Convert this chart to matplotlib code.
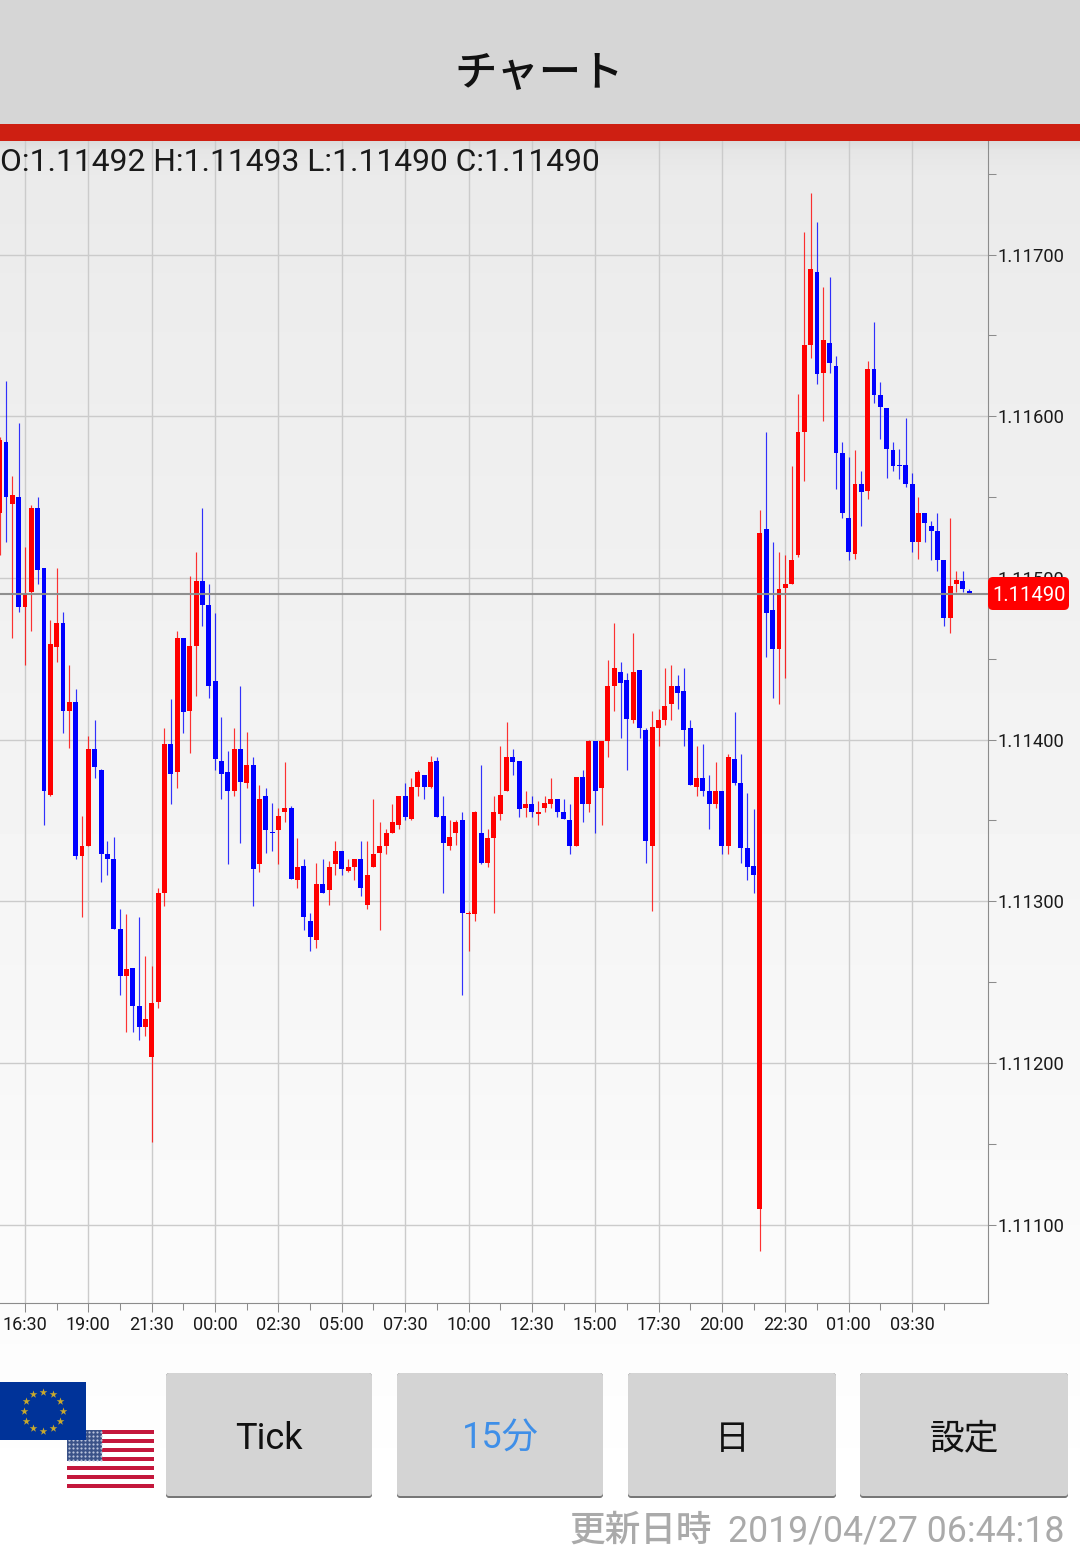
"""EUR/USD 15 minute candle chart screen, saved as out.png."""

from __future__ import annotations

import matplotlib

matplotlib.use("Agg")

import matplotlib.pyplot as plt
import numpy as np
from matplotlib.patches import FancyBboxPatch, Rectangle
from matplotlib.ticker import FixedLocator

W, H = 1080, 1556

# candle values, in points above 1.11000 (1 point = 0.00001)
PRICE_BASE = 1.11
POINT = 0.00001
OPENS = [
    540, 584, 546, 550, 482, 491, 543, 506, 366, 457,
    472, 418, 423, 328, 334, 394, 381, 329, 326, 283,
    254, 259, 235, 222, 204, 238, 305, 397, 380, 463,
    418, 458, 498, 483, 436, 387, 380, 368, 394, 373,
    384, 323, 365, 343, 344, 355, 358, 313, 322, 288,
    276, 311, 307, 323, 331, 319, 321, 326, 298, 321,
    330, 334, 342, 347, 365, 351, 371, 378, 371, 387,
    353, 334, 342, 350, 292, 292, 342, 324, 339, 354,
    368, 389, 387, 358, 360, 354, 358, 360, 363, 355,
    350, 334, 377, 360, 399, 370, 399, 433, 442, 437,
    412, 443, 406, 334, 407, 412, 422, 433, 430, 407,
    371, 376, 368, 360, 368, 334, 388, 373, 333, 322,
    110, 530, 480, 456, 494, 496, 514, 590, 644, 689,
    627, 645, 631, 577, 537, 515, 558, 554, 629, 613,
    605, 579, 570, 570, 558, 522, 540, 532, 529, 511,
    475, 496, 498, 492,
]
CLOSES = [
    585, 550, 551, 482, 490, 543, 505, 368, 459, 472,
    418, 423, 328, 334, 394, 383, 329, 326, 283, 254,
    258, 235, 222, 227, 237, 305, 397, 379, 463, 417,
    458, 498, 483, 433, 388, 379, 368, 394, 374, 384,
    320, 363, 344, 342, 353, 358, 314, 321, 290, 278,
    311, 305, 321, 331, 320, 321, 326, 308, 316, 329,
    334, 342, 349, 365, 352, 371, 380, 371, 386, 352,
    336, 340, 349, 293, 293, 355, 324, 339, 355, 366,
    389, 386, 357, 360, 355, 355, 361, 363, 355, 351,
    334, 377, 360, 399, 368, 399, 433, 444, 435, 413,
    442, 407, 337, 408, 412, 421, 433, 429, 406, 372,
    376, 368, 360, 368, 334, 389, 373, 333, 321, 316,
    528, 478, 456, 493, 496, 511, 590, 644, 691, 626,
    647, 633, 577, 540, 516, 558, 553, 629, 613, 606,
    580, 569, 569, 558, 522, 540, 534, 529, 511, 475,
    495, 499, 493, 490,
]
HIGHS = [
    587, 622, 563, 596, 519, 545, 550, 506, 474, 506,
    479, 446, 431, 353, 402, 412, 382, 337, 340, 295,
    292, 259, 290, 266, 260, 308, 407, 425, 467, 463,
    501, 516, 543, 496, 478, 414, 393, 407, 433, 405,
    389, 372, 370, 361, 358, 386, 359, 339, 326, 293,
    324, 326, 325, 337, 331, 326, 326, 337, 337, 363,
    349, 345, 360, 365, 373, 376, 381, 378, 390, 389,
    365, 350, 350, 355, 294, 356, 384, 345, 365, 396,
    411, 394, 387, 368, 365, 362, 365, 376, 363, 363,
    360, 377, 381, 400, 399, 399, 449, 472, 448, 441,
    466, 443, 407, 418, 419, 444, 446, 440, 444, 412,
    396, 397, 378, 386, 368, 391, 417, 391, 367, 357,
    542, 590, 522, 516, 514, 569, 614, 714, 738, 720,
    680, 686, 637, 584, 575, 579, 566, 634, 658, 621,
    605, 584, 580, 599, 565, 550, 540, 535, 540, 511,
    537, 504, 504, 493,
]
LOWS = [
    514, 522, 463, 479, 446, 467, 496, 347, 365, 448,
    404, 395, 326, 290, 334, 376, 312, 316, 283, 242,
    219, 219, 214, 217, 151, 234, 297, 360, 370, 404,
    392, 427, 470, 426, 381, 363, 323, 365, 336, 370,
    297, 318, 330, 331, 323, 349, 314, 308, 282, 269,
    271, 305, 298, 316, 316, 318, 313, 303, 295, 321,
    282, 329, 342, 345, 350, 350, 365, 363, 370, 352,
    305, 332, 335, 242, 269, 288, 323, 321, 293, 350,
    368, 378, 352, 352, 352, 347, 355, 358, 352, 351,
    329, 334, 349, 355, 342, 347, 389, 418, 401, 381,
    410, 401, 324, 294, 396, 409, 412, 419, 396, 372,
    365, 365, 345, 358, 329, 329, 372, 324, 313, 305,
    84, 451, 426, 422, 438, 496, 513, 560, 636, 620,
    597, 627, 555, 537, 511, 512, 532, 549, 608, 586,
    562, 566, 561, 556, 516, 512, 522, 511, 504, 470,
    466, 491, 491, 490,
]

TIME_LABELS = [
    "16:30", "19:00", "21:30", "00:00", "02:30", "05:00", "07:30", "10:00",
    "12:30", "15:00", "17:30", "20:00", "22:30", "01:00", "03:30",
]
PRICE_TICKS = [1.111, 1.112, 1.113, 1.114, 1.115, 1.116, 1.117]
PRICE_MINOR_TICKS = [1.1115, 1.1125, 1.1135, 1.1145, 1.1155, 1.1165, 1.1175]
LAST_PRICE = 1.1149
OHLC_TEXT = "O:1.11492 H:1.11493 L:1.11490 C:1.11490"
TITLE = "チャート"
BUTTON_LABELS = ["Tick", "15分", "日", "設定"]
UPDATED_LABEL = "更新日時"
UPDATED_TIME = "2019/04/27 06:44:18"

UP_COLOR = "#ff0000"
DOWN_COLOR = "#0000ff"
GRID_COLOR = "#cbcbcb"
AXIS_COLOR = "#8c8c8c"
FONT = ["Roboto", "Noto Sans CJK JP", "DejaVu Sans"]


def draw_background(fig):
    ax = fig.add_axes([0, 0, 1, 1], zorder=0)
    ax.set_axis_off()
    rows = np.arange(H)
    shade = np.interp(
        rows,
        [141, 150, 175, 300, 800, 1300, 1500],
        [0.86, 0.9, 0.918, 0.928, 0.955, 0.985, 1.0],
    )
    ax.imshow(shade[:, None], cmap="gray", vmin=0, vmax=1, aspect="auto", extent=(0, W, H, 0))
    ax.set_xlim(0, W)
    ax.set_ylim(H, 0)


def draw_chart(fig):
    left, right, top, bottom = 0, 988, 141, 1303
    ax = fig.add_axes(
        [left / W, 1 - bottom / H, (right - left) / W, (bottom - top) / H],
        zorder=1,
    )
    ax.patch.set_alpha(0)

    opens = PRICE_BASE + np.array(OPENS) * POINT
    closes = PRICE_BASE + np.array(CLOSES) * POINT
    highs = PRICE_BASE + np.array(HIGHS) * POINT
    lows = PRICE_BASE + np.array(LOWS) * POINT
    idx = np.arange(len(opens))
    colors = [UP_COLOR if c > o else DOWN_COLOR for o, c in zip(opens, closes)]

    ax.vlines(idx, lows, highs, colors=colors, linewidth=0.85, alpha=0.8, zorder=3)
    ax.bar(idx, np.abs(closes - opens), bottom=np.minimum(opens, closes), width=0.78, color=colors, zorder=4)
    ax.axhline(LAST_PRICE, color="#8a8a8a", linewidth=1.5, alpha=0.95, zorder=5)

    ax.set_xlim(0.054, 155.99)
    ax.set_ylim(1.110516, 1.117702)

    ax.set_xticks(idx[4::10][: len(TIME_LABELS)])
    ax.set_xticklabels(TIME_LABELS, family=FONT, fontsize=13, color="#1a1a1a")
    ax.xaxis.set_minor_locator(FixedLocator(idx[9::10]))
    ax.yaxis.tick_right()
    ax.set_yticks(PRICE_TICKS)
    ax.set_yticklabels([f"{p:.5f}" for p in PRICE_TICKS], family=FONT, fontsize=13.2, color="#1a1a1a")
    ax.yaxis.set_minor_locator(FixedLocator(PRICE_MINOR_TICKS))

    ax.tick_params(axis="x", which="major", length=6.6, width=0.75, color=AXIS_COLOR, pad=2.6)
    ax.tick_params(axis="x", which="minor", length=5, width=0.75, color=AXIS_COLOR)
    ax.tick_params(axis="y", which="both", length=5.8, width=0.75, color=AXIS_COLOR, pad=0.8)

    ax.grid(True, which="major", color=GRID_COLOR, linewidth=1.0, zorder=1)
    ax.set_axisbelow(True)
    for side in ("left", "top"):
        ax.spines[side].set_visible(False)
    for side in ("right", "bottom"):
        ax.spines[side].set_color(AXIS_COLOR)
        ax.spines[side].set_linewidth(0.8)


def draw_us_flag(ax):
    x0, y0, w, h = 67, 1430, 87, 58
    ax.add_patch(Rectangle((x0, y0), w, h, fc="white", ec="none"))
    stripe = h / 13
    for i in range(0, 13, 2):
        ax.add_patch(Rectangle((x0, y0 + i * stripe), w, stripe, fc="#c4173c", ec="none"))
    ax.add_patch(Rectangle((x0, y0), 35, 7 * stripe, fc="#3a5288", ec="none"))
    xs, ys = np.meshgrid(np.arange(x0 + 2, x0 + 35, 4), np.arange(y0 + 2, y0 + 31, 4))
    ax.scatter(xs.ravel(), ys.ravel(), s=2.5, c="#b9c4dc", linewidths=0)


def draw_eu_flag(ax):
    ax.add_patch(Rectangle((0, 1382), 86, 58, fc="#003399", ec="none"))
    angles = np.deg2rad(np.arange(0, 360, 30))
    ax.scatter(
        43 + 19.5 * np.cos(angles),
        1411 + 19.5 * np.sin(angles),
        s=34,
        marker="*",
        c="#c9a92c",
        linewidths=0,
    )


def draw_screen(fig):
    ax = fig.add_axes([0, 0, 1, 1], zorder=2)
    ax.set_axis_off()
    ax.patch.set_alpha(0)
    ax.set_xlim(0, W)
    ax.set_ylim(H, 0)

    ax.add_patch(Rectangle((0, 0), W, 124, fc="#d6d6d6", ec="none"))
    ax.add_patch(Rectangle((0, 124), W, 17, fc="#ce1f12", ec="none"))
    ax.text(
        539, 73, TITLE, ha="center", va="center", family=FONT[1:],
        fontsize=30.5, fontweight="medium", color="#111111",
    )
    ax.text(0, 162, OHLC_TEXT, ha="left", va="center", family=FONT, fontsize=22.9, color="#1a1a1a")

    # last price tag sits over the 1.11500 label, as in the app
    ax.add_patch(
        FancyBboxPatch(
            (991, 580), 75, 27, boxstyle="round,pad=3,rounding_size=5",
            fc="#ff0000", ec="none", lw=0,
        )
    )
    ax.text(1029, 595, f"{LAST_PRICE:.5f}", ha="center", va="center", family=FONT, fontsize=14.6, color="white")

    draw_us_flag(ax)
    draw_eu_flag(ax)

    lefts = [166, 397, 628, 860]
    widths = [206, 206, 208, 208]
    text_colors = ["#111111", "#3f8fe8", "#111111", "#111111"]
    sizes = [26, 26, 25, 25]
    for x, w, label, color, size in zip(lefts, widths, BUTTON_LABELS, text_colors, sizes):
        ax.add_patch(
            FancyBboxPatch(
                (x + 3, 1376), w - 6, 119, boxstyle="round,pad=3,rounding_size=3",
                fc="#777777", ec="none", lw=0,
            )
        )
        ax.add_patch(
            FancyBboxPatch(
                (x + 3, 1376), w - 6, 117, boxstyle="round,pad=3,rounding_size=3",
                fc="#d4d4d4", ec="none", lw=0,
            )
        )
        ax.text(x + w / 2, 1439, label, ha="center", va="center", family=FONT, fontsize=size, color=color)

    ax.text(712, 1531, UPDATED_LABEL, ha="right", va="center", family=FONT, fontsize=25.7, fontweight="medium", color="#aaaaaa")
    ax.text(1064, 1531, UPDATED_TIME, ha="right", va="center", family=FONT, fontsize=25.7, color="#aaaaaa")


def main() -> None:
    fig = plt.figure(figsize=(W / 100, H / 100), dpi=100)
    draw_background(fig)
    draw_chart(fig)
    draw_screen(fig)
    fig.savefig("out.png", dpi=100)
    plt.close(fig)


if __name__ == "__main__":
    main()
